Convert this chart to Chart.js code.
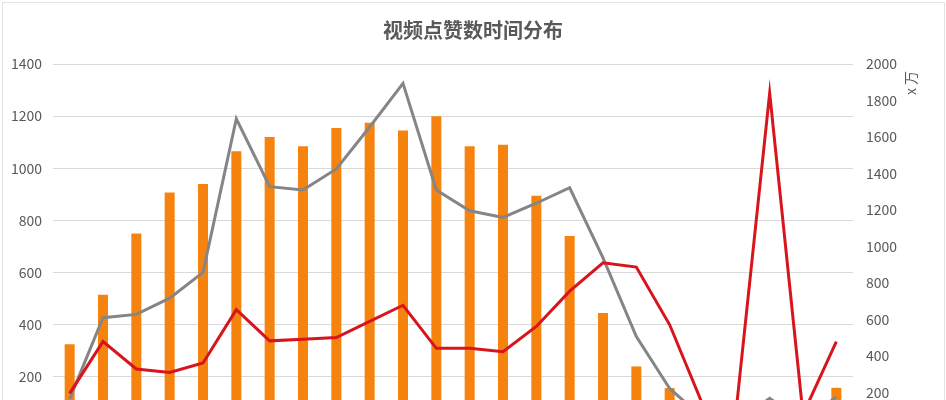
<!DOCTYPE html>
<html>
<head>
<meta charset="utf-8">
<script src="https://cdn.jsdelivr.net/npm/chart.js@4"></script>
<style>
  html, body { margin: 0; padding: 0; background: #fff; overflow: hidden; }
  #wrap { position: relative; width: 946px; height: 400px; overflow: hidden; }
  #frame { position: absolute; left: 2px; top: 2px; width: 941px; height: 500px; border: 1px solid #e3e3e3; pointer-events: none; }
</style>
</head>
<body>
<div id="wrap">
  <canvas id="likesChart"></canvas>
  <div id="frame"></div>
</div>
<script>
const hours = ['0', '1', '2', '3', '4', '5', '6', '7', '8', '9', '10', '11',
  '12', '13', '14', '15', '16', '17', '18', '19', '20', '21', '22', '23'];

// 视频数 (左轴)
const videoCounts = [325, 515, 750, 907, 940, 1065, 1120, 1085, 1155, 1175, 1145, 1200,
  1085, 1090, 895, 740, 445, 240, 157, 80, 50, 40, 60, 158];

// 点赞总数 x万 (右轴)
const totalLikes = [165, 610, 628, 717, 858, 1700, 1328, 1310, 1425, 1655, 1894, 1310,
  1196, 1159, 1237, 1322, 938, 507, 222, 60, 40, 168, 40, 176];

// 平均点赞 (右轴)
const avgLikes = [195, 479, 329, 310, 362, 654, 483, 492, 501, 590, 678, 442,
  442, 424, 562, 755, 911, 887, 571, 130, 110, 1840, 80, 479];

const leftMax = 1400;
const rightMax = 2000;

const canvas = document.getElementById('likesChart');
canvas.width = 946;
canvas.height = 480;
canvas.style.width = '946px';
canvas.style.height = '480px';
const ctx = canvas.getContext('2d');

const fontFamily = '"Noto Sans CJK SC", "Noto Sans", sans-serif';
const textColor = '#595959';

// 右轴单位 "x 万"
const unitLabel = {
  id: 'unitLabel',
  afterDraw(chart) {
    const c = chart.ctx;
    c.save();
    c.translate(911, 83);
    c.rotate(-Math.PI / 2);
    c.font = '14px ' + fontFamily;
    c.fillStyle = textColor;
    c.textAlign = 'center';
    c.textBaseline = 'middle';
    c.fillText('x 万', 0, 0);
    c.restore();
  }
};

const plainNumber = (value) => String(value);

new Chart(ctx, {
  data: {
    labels: hours,
    datasets: [
      {
        type: 'line',
        label: '平均点赞',
        data: avgLikes,
        yAxisID: 'y1',
        borderColor: '#d8141c',
        borderWidth: 3,
        pointRadius: 0,
        tension: 0,
        order: 0
      },
      {
        type: 'line',
        label: '点赞总数',
        data: totalLikes,
        yAxisID: 'y1',
        borderColor: '#858585',
        borderWidth: 3,
        pointRadius: 0,
        tension: 0,
        order: 1
      },
      {
        type: 'bar',
        label: '视频数',
        data: videoCounts,
        yAxisID: 'y',
        backgroundColor: '#f7830f',
        categoryPercentage: 1,
        barPercentage: 0.3,
        order: 2
      }
    ]
  },
  options: {
    responsive: false,
    animation: false,
    layout: { padding: { left: 0, right: 0, top: 0, bottom: 0 } },
    plugins: {
      legend: { display: false },
      tooltip: { enabled: false },
      title: {
        display: true,
        text: '视频点赞数时间分布',
        color: textColor,
        font: { family: fontFamily, size: 20, weight: 'bold' },
        padding: { top: 18, bottom: 22 }
      }
    },
    scales: {
      x: {
        grid: { display: false },
        border: { display: false },
        ticks: { color: textColor, font: { family: fontFamily, size: 14 } },
        afterFit(scale) { scale.height = 51; }
      },
      y: {
        position: 'left',
        min: 0,
        max: leftMax,
        ticks: { stepSize: 200, color: textColor, padding: 11, callback: plainNumber, font: { family: fontFamily, size: 14 } },
        grid: { color: '#d9d9d9', lineWidth: 1, drawTicks: false },
        border: { display: false },
        afterFit(scale) { scale.width = 53; }
      },
      y1: {
        position: 'right',
        min: 0,
        max: rightMax,
        ticks: { stepSize: 200, color: textColor, padding: 13, callback: plainNumber, font: { family: fontFamily, size: 14 } },
        grid: { display: false, drawTicks: false },
        border: { display: false },
        afterFit(scale) { scale.width = 93; }
      }
    }
  },
  plugins: [unitLabel]
});
</script>
</body>
</html>
